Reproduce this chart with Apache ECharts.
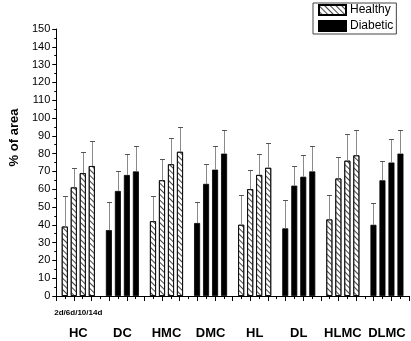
<!DOCTYPE html>
<html>
<head>
<meta charset="utf-8">
<script src="https://cdn.jsdelivr.net/npm/echarts@6/dist/echarts.min.js"></script>
<style>
  html, body { margin: 0; padding: 0; background: #fff; }
  #chart { width: 411px; height: 341px; }
</style>
</head>
<body>
<div id="chart"></div>
<script>
// groups along the x axis, each with 4 time points
const groups = ['HC', 'DC', 'HMC', 'DMC', 'HL', 'DL', 'HLMC', 'DLMC']
const days = ['2d', '6d', '10d', '14d']

// mean % of area per time point (one value per group)
const mean2d = [39, 37, 42, 41, 40, 38, 43, 40]
const mean6d = [61, 59, 65, 63, 60, 62, 66, 65]
const mean10d = [69, 68, 74, 71, 68, 67, 76, 75]
const mean14d = [73, 70, 81, 80, 72, 70, 79, 80]

// error (upper whisker length) per time point
const sd2d = [17, 16, 14, 12, 17, 16, 14, 12]
const sd6d = [11, 11, 12, 11, 11, 11, 12, 11]
const sd10d = [12, 12, 15, 13, 12, 12, 15, 13]
const sd14d = [14, 14, 14, 13, 14, 14, 14, 13]

const means = [mean2d, mean6d, mean10d, mean14d]
const sds = [sd2d, sd6d, sd10d, sd14d]

const FONT = 'Liberation Sans, Arial, sans-serif'

const hatch = {
  symbol: 'rect',
  symbolSize: 1,
  dashArrayX: [1, 0],
  dashArrayY: [1, 3],
  rotation: Math.PI / 4,
  color: '#444'
}
const healthyStyle = { color: '#fff', borderColor: '#000', borderWidth: 0.8, decal: hatch }
const diabeticStyle = { color: '#000', borderColor: '#000', borderWidth: 0.8 }

function isDiabetic (i) {
  return groups[i].charAt(0) === 'D'
}

const series = []

// bars, one series per time point
days.forEach((day, d) => {
  series.push({
    name: day,
    type: 'bar',
    xAxisIndex: 0,
    yAxisIndex: 0,
    barWidth: 6,
    barGap: '50%',
    silent: true,
    data: means[d].map((v, i) => ({
      value: v,
      itemStyle: isDiabetic(i) ? diabeticStyle : healthyStyle
    }))
  })
})

// error bars (upper only)
const errData = []
days.forEach((day, d) => {
  means[d].forEach((v, i) => {
    errData.push([i, v, v + sds[d][i], d])
  })
})
series.push({
  type: 'custom',
  xAxisIndex: 0,
  yAxisIndex: 0,
  silent: true,
  z: 3,
  encode: { x: 0, y: [1, 2] },
  data: errData,
  renderItem: function (params, api) {
    const ci = api.value(0)
    const lo = api.coord([ci, api.value(1)])
    const hi = api.coord([ci, api.value(2)])
    const x = Math.round(lo[0] + (api.value(3) - 1.5) * 9) + 0.5
    const y0 = lo[1]
    const y1 = Math.round(hi[1]) + 0.5
    return {
      type: 'group',
      children: [
        { type: 'line', shape: { x1: x, y1: y0, x2: x, y2: y1 }, style: { stroke: '#8a8a8a', lineWidth: 1 } },
        { type: 'line', shape: { x1: x - 2.5, y1: y1, x2: x + 2.5, y2: y1 }, style: { stroke: '#555', lineWidth: 1 } }
      ]
    }
  }
})

// legend-only series, parked on a hidden grid
series.push({ name: 'Healthy', type: 'bar', xAxisIndex: 2, yAxisIndex: 1, data: [], itemStyle: healthyStyle })
series.push({ name: 'Diabetic', type: 'bar', xAxisIndex: 2, yAxisIndex: 1, data: [], itemStyle: diabeticStyle })

const option = {
  animation: false,
  backgroundColor: '#fff',
  textStyle: { fontFamily: FONT },
  legend: {
    data: ['Healthy', 'Diabetic'],
    orient: 'vertical',
    left: 313,
    top: 3,
    padding: [0, 3, 1, 5],
    itemWidth: 27,
    itemHeight: 10,
    itemGap: 2,
    borderColor: '#444',
    borderWidth: 1,
    selectedMode: false,
    icon: 'rect',
    textStyle: { fontFamily: FONT, fontSize: 12, color: '#000', lineHeight: 14, padding: [0, 0, 0, -1] }
  },
  grid: [
    { left: 48, right: 2, top: 29, bottom: 45 },
    { left: 0, top: 0, width: 1, height: 1, show: false }
  ],
  xAxis: [
    {
      type: 'category',
      gridIndex: 0,
      position: 'bottom',
      data: groups,
      axisLine: { show: false },
      axisTick: { show: false },
      axisLabel: {
        margin: 11,
        interval: 0,
        formatter: function (val, i) {
          return (i === 0 ? '{s|2d/6d/10/14d}' : '{s| }') + '\n{g|' + val + '}'
        },
        rich: {
          s: { fontFamily: FONT, fontSize: 8, fontWeight: 'bold', lineHeight: 12, color: '#000' },
          g: { fontFamily: FONT, fontSize: 13, fontWeight: 'bold', lineHeight: 28, color: '#000' }
        }
      }
    },
    {
      type: 'value',
      gridIndex: 0,
      position: 'bottom',
      min: 0,
      max: 40,
      interval: 2,
      axisLine: { show: true, lineStyle: { color: '#000', width: 1 } },
      axisTick: { show: true, length: 5, lineStyle: { color: '#000' } },
      minorTick: { show: true, splitNumber: 2, length: 3, lineStyle: { color: '#000' } },
      axisLabel: { show: false },
      splitLine: { show: false }
    },
    { type: 'category', gridIndex: 1, show: false, data: ['x'] }
  ],
  yAxis: [
    {
      type: 'value',
      gridIndex: 0,
      min: 0,
      max: 150,
      interval: 10,
      name: '% of area',
      nameLocation: 'middle',
      nameGap: 30,
      nameTextStyle: { fontFamily: FONT, fontSize: 13, fontWeight: 'bold', color: '#000', padding: [0, 0, 0, 50] },
      axisLine: { show: true, lineStyle: { color: '#000', width: 1 } },
      axisTick: { show: true, length: 4, lineStyle: { color: '#000' } },
      minorTick: { show: true, splitNumber: 2, length: 2, lineStyle: { color: '#000' } },
      axisLabel: { fontFamily: FONT, fontSize: 11, color: '#000', margin: 6 },
      splitLine: { show: false }
    },
    { type: 'value', gridIndex: 1, show: false }
  ],
  series: series
}

const chart = echarts.init(document.getElementById('chart'), null, { renderer: 'canvas' })
chart.setOption(option)
</script>
</body>
</html>
